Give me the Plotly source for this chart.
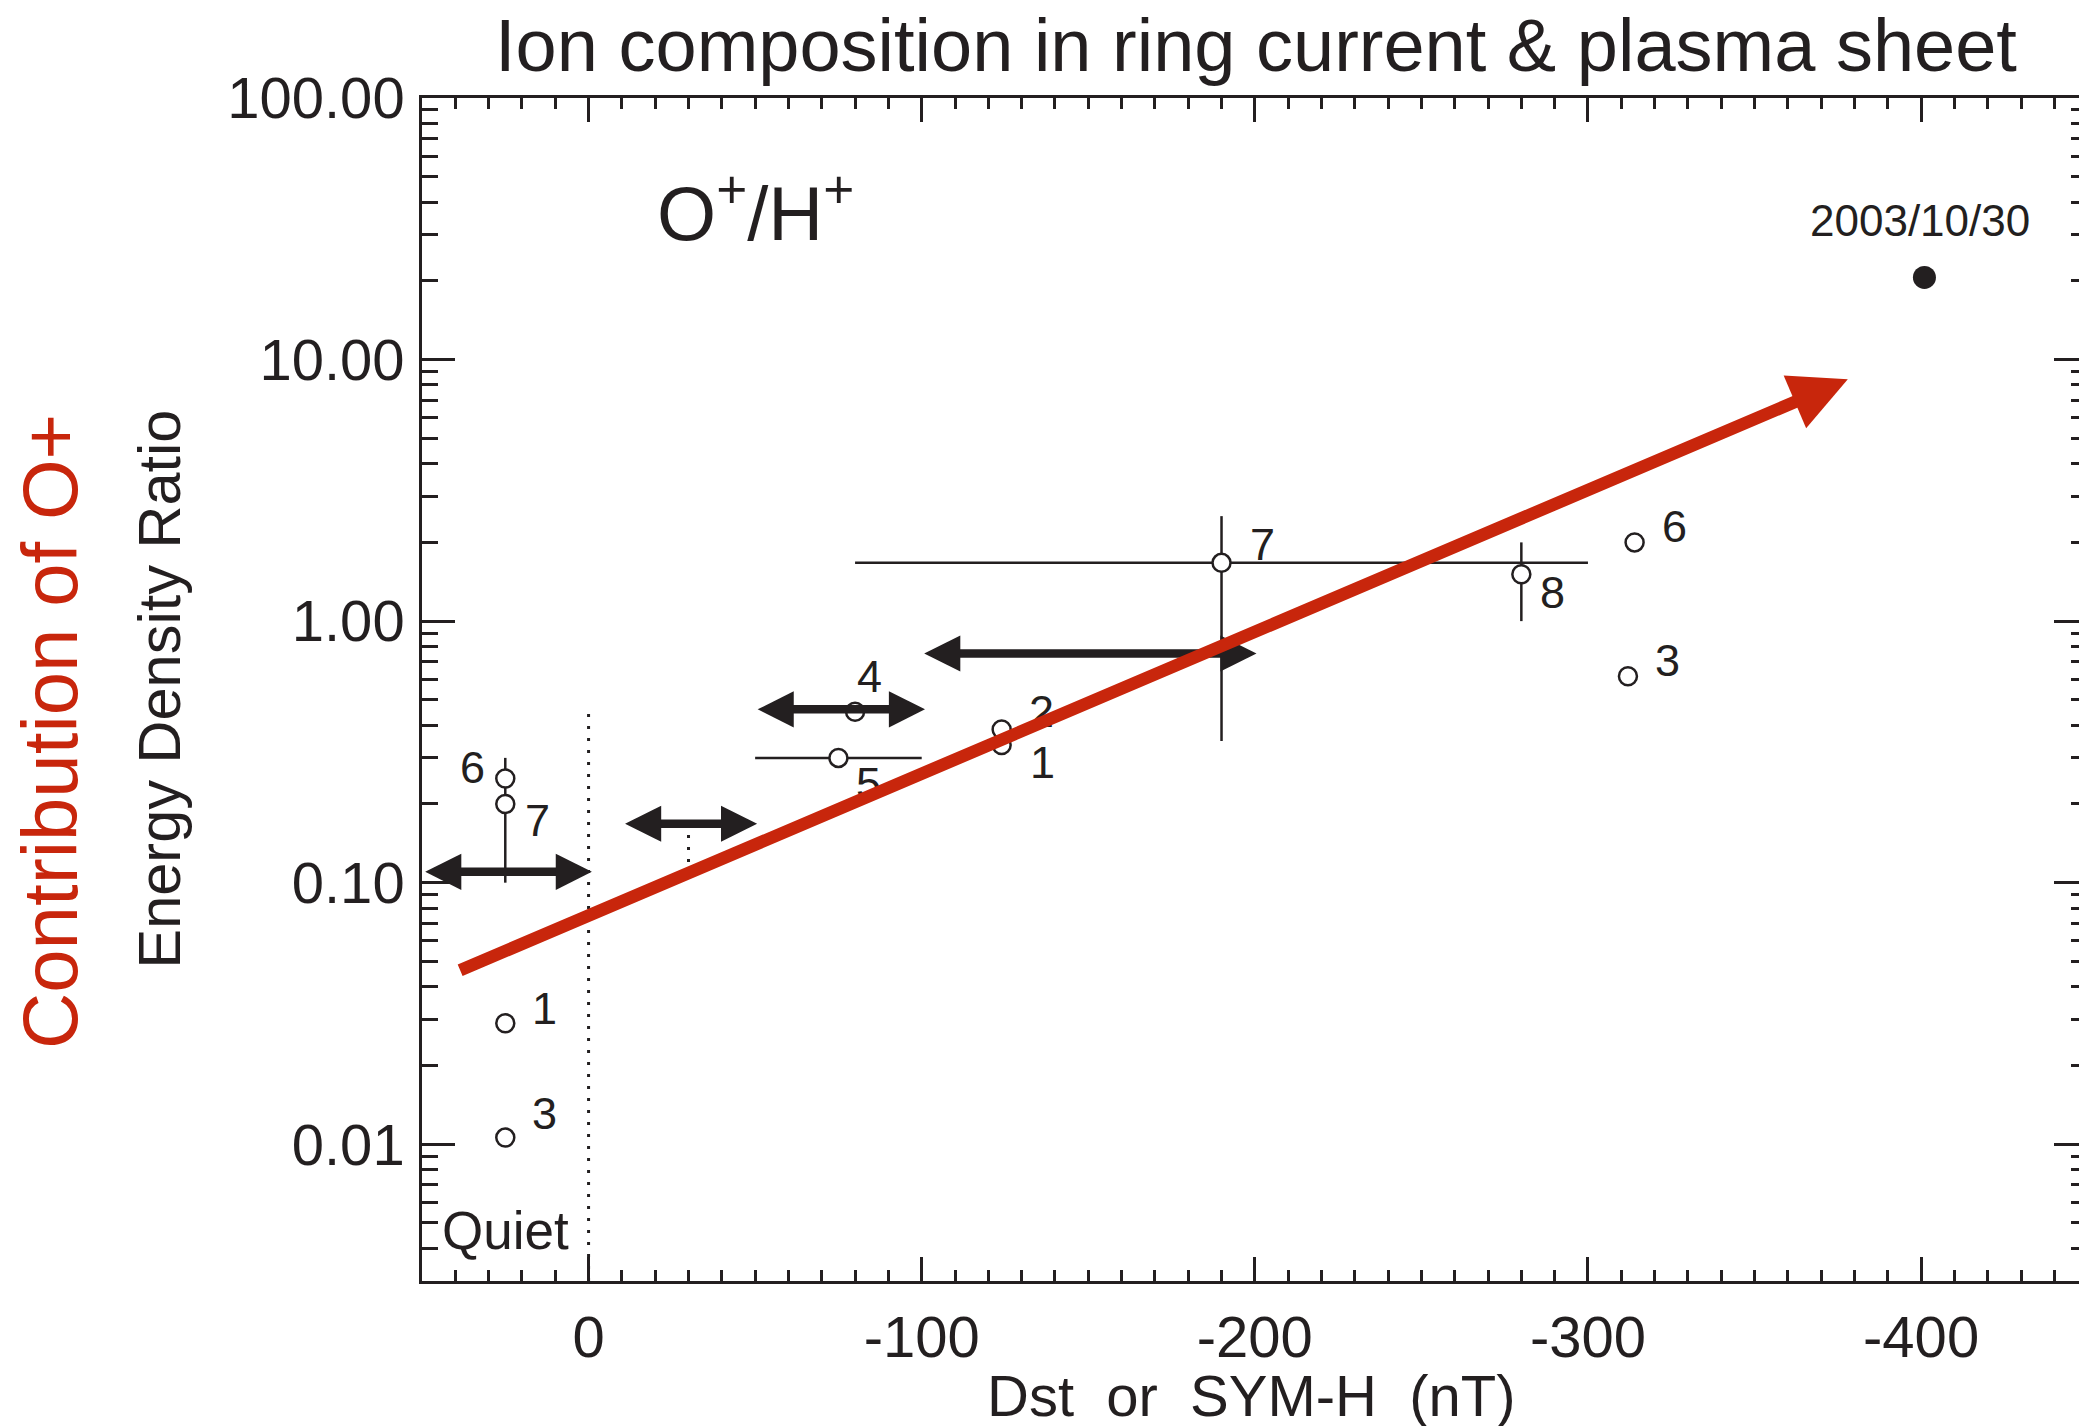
import numpy as np
import plotly.graph_objects as go

# ---------------- data ----------------
# open-circle observations: Dst/SYM-H (nT) and O+/H+ energy density ratio
obs_dst = [25, 25, 25, 25, -80, -75, -124, -124, -190, -280, -314, -312]
obs_ratio = [0.25, 0.20, 0.029, 0.0106, 0.45, 0.30, 0.385, 0.336, 1.67, 1.51, 2.0, 0.615]
obs_label = ["6", "7", "1", "3", "4", "5", "2", "1", "7", "8", "6", "3"]
# horizontal (Dst range) bounds, None = no bar
obs_dst_hi = [None, None, None, None, None, -50, None, None, -80, None, None, None]
obs_dst_lo = [None, None, None, None, None, -100, None, None, -300, None, None, None]
# vertical (ratio range) bounds, None = no bar
obs_ratio_hi = [None, 0.30, None, None, None, None, None, None, 2.52, 2.0, None, None]
obs_ratio_lo = [None, 0.10, None, None, None, None, None, None, 0.348, 1.0, None, None]

# double-headed range arrows (Dst from -> to, at ratio level)
range_from = [49.5, -10.5, -50.3, -100.3]
range_to = [-1.0, -50.6, -101.0, -200.5]
range_level = [0.110, 0.168, 0.46, 0.752]

# extreme event
event_dst = [-401]
event_ratio = [20.6]
event_label = ["2003/10/30"]

# trend arrow (start -> end)
trend_dst = [39, -378]
trend_ratio = [0.046, 8.4]

# quiet-time boundary and short dotted marker
quiet_dst = [0, 0]
quiet_ratio = [0.003, 0.47]
mark_dst = [-30, -30]
mark_ratio = [0.12, 0.16]

# axis ticks
x_tickvals = [0, -100, -200, -300, -400]
x_ticktext = ["0", "-100", "-200", "-300", "-400"]
y_tickvals = [0.01, 0.1, 1, 10, 100]
y_ticktext = ["0.01", "0.10", "1.00", "10.00", "100.00"]

# ---------------- styling ----------------
INK = "#231f20"
RED = "#c8260c"
FONT = "Liberation Sans, Arial, Helvetica, sans-serif"
# pixel offsets of the point number labels (style only)
label_shift = [(-33, 11), (32, -17), (39, 15), (39, 24), (14, 35), (30, -26),
               (40, 18), (41, -17), (41, 18), (31, -18), (40, 16), (40, 16)]

def plus(v, hi):
    return 0 if hi is None else hi - v

def minus(v, lo):
    return 0 if lo is None else v - lo

fig = go.Figure()

# quiet boundary (dotted)
fig.add_trace(go.Scatter(x=quiet_dst, y=quiet_ratio, mode="lines",
                         line=dict(color=INK, width=3, dash="3px,9px"),
                         hoverinfo="skip", showlegend=False))
fig.add_trace(go.Scatter(x=mark_dst, y=mark_ratio, mode="lines",
                         line=dict(color=INK, width=3, dash="3px,9px"),
                         hoverinfo="skip", showlegend=False))

# observations with error bars
fig.add_trace(go.Scatter(
    x=obs_dst, y=obs_ratio, mode="markers",
    marker=dict(symbol="circle", size=18, color="white",
                line=dict(color=INK, width=2.5)),
    error_x=dict(type="data", symmetric=False,
                 array=[plus(v, h) for v, h in zip(obs_dst, obs_dst_hi)],
                 arrayminus=[minus(v, l) for v, l in zip(obs_dst, obs_dst_lo)],
                 color=INK, thickness=2.5, width=0),
    error_y=dict(type="data", symmetric=False,
                 array=[plus(v, h) for v, h in zip(obs_ratio, obs_ratio_hi)],
                 arrayminus=[minus(v, l) for v, l in zip(obs_ratio, obs_ratio_lo)],
                 color=INK, thickness=2.5, width=0),
    showlegend=False))

# extreme event (on mirrored right axis, same scale)
fig.add_trace(go.Scatter(x=event_dst, y=event_ratio, mode="markers", yaxis="y2",
                         marker=dict(symbol="circle", size=23, color=INK),
                         showlegend=False))

annotations = []
# double-headed range arrows
for a, b, lv in zip(range_from, range_to, range_level):
    annotations.append(dict(x=b, y=np.log10(lv), ax=a, ay=np.log10(lv),
                            xref="x", yref="y", axref="x", ayref="y", text="",
                            showarrow=True, arrowside="end+start", arrowhead=2,
                            arrowsize=0.85, arrowwidth=8.5, arrowcolor=INK,
                            standoff=0, startstandoff=0))
# point number labels
for d, r, t, (sx, sy) in zip(obs_dst, obs_ratio, obs_label, label_shift):
    annotations.append(dict(x=d, y=np.log10(r), xref="x", yref="y", text=t,
                            showarrow=False, xshift=sx, yshift=sy,
                            font=dict(size=45, color=INK, family=FONT)))
# event label
for d, r, t in zip(event_dst, event_ratio, event_label):
    annotations.append(dict(x=d, y=np.log10(r), xref="x", yref="y", text=t,
                            showarrow=False, xshift=-4, yshift=57,
                            font=dict(size=44, color=INK, family=FONT)))
# trend arrow
annotations.append(dict(x=trend_dst[1], y=np.log10(trend_ratio[1]),
                        ax=trend_dst[0], ay=np.log10(trend_ratio[0]),
                        xref="x", yref="y", axref="x", ayref="y", text="",
                        showarrow=True, arrowhead=2, arrowsize=0.92,
                        arrowwidth=12.5, arrowcolor=RED, standoff=0))
# texts
annotations.append(dict(x=25, y=np.log10(0.0047), xref="x", yref="y", text="Quiet",
                        showarrow=False, font=dict(size=53, color=INK, family=FONT)))
annotations.append(dict(x=-50, y=np.log10(38), xref="x", yref="y",
                        text="O<sup>+</sup>/H<sup>+</sup>", showarrow=False,
                        font=dict(size=76, color=INK, family=FONT)))
annotations.append(dict(x=-0.1587, y=0.5, xref="paper", yref="paper",
                        xanchor="center", yanchor="middle",
                        text="Energy Density Ratio", textangle=-90, showarrow=False,
                        font=dict(size=59.5, color=INK, family=FONT)))
annotations.append(dict(x=-0.2245, y=0.464, xref="paper", yref="paper",
                        xanchor="center", yanchor="middle",
                        text="Contribution of O+", textangle=-90, showarrow=False,
                        font=dict(size=78, color=RED, family=FONT)))
annotations.append(dict(x=0.5, y=-0.0964, xref="paper", yref="paper",
                        text="Dst\u00a0\u00a0or\u00a0\u00a0SYM-H\u00a0\u00a0(nT)",
                        showarrow=False, xanchor="center", yanchor="middle",
                        font=dict(size=58, color=INK, family=FONT)))

# minor tick positions on the log axis (2..9 per decade)
minor_y = [m * 10.0 ** e for e in range(-3, 2) for m in range(2, 10)]

yaxis_common = dict(type="log", range=[np.log10(0.003), 2], showgrid=False,
                    zeroline=False, ticks="inside", tickwidth=2.5, tickcolor=INK)

fig.update_layout(
    width=2079, height=1426,
    margin=dict(l=422, r=0, t=98, b=145),
    paper_bgcolor="white", plot_bgcolor="white",
    font=dict(family=FONT, color=INK),
    title=dict(text="Ion composition in ring current & plasma sheet",
               x=1256 / 2079, xanchor="center", y=1 - 45 / 1426, yanchor="middle",
               font=dict(size=74, color=INK, family=FONT)),
    xaxis=dict(range=[50, -447.4], showgrid=False, zeroline=False,
               showline=True, linewidth=2.5, linecolor=INK, mirror="ticks",
               ticks="inside", ticklen=24, tickwidth=2.5, tickcolor=INK,
               tickvals=x_tickvals, ticktext=x_ticktext,
               tickfont=dict(size=58, color=INK, family=FONT),
               ticklabelstandoff=4,
               minor=dict(ticks="inside", ticklen=11, tickwidth=2.5,
                          tickcolor=INK, dtick=10, tick0=0)),
    yaxis=dict(**yaxis_common, showline=True, linewidth=2.5, linecolor=INK,
               ticklen=33, tickvals=y_tickvals, ticktext=y_ticktext,
               tickfont=dict(size=58, color=INK, family=FONT),
               ticklabelstandoff=3,
               minor=dict(ticks="inside", ticklen=16, tickwidth=2.5,
                          tickcolor=INK, tickvals=minor_y)),
    yaxis2=dict(**yaxis_common, overlaying="y", side="right", anchor="x",
                showline=False, ticklen=25, tickvals=y_tickvals,
                showticklabels=False,
                minor=dict(ticks="inside", ticklen=8, tickwidth=2.5,
                           tickcolor=INK, tickvals=minor_y)),
    annotations=annotations,
    showlegend=False,
)

fig.write_html("out.html")
